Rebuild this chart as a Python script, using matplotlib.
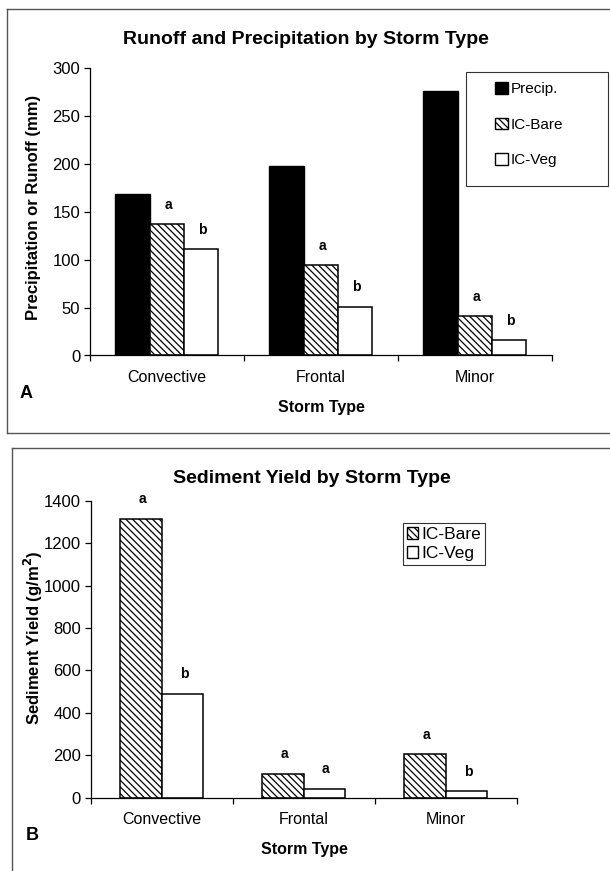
import numpy as np
import matplotlib
matplotlib.use('Agg')
import matplotlib.pyplot as plt
from matplotlib.lines import Line2D
from matplotlib.patches import Patch, Rectangle

plt.rcParams['font.family'] = ['Liberation Sans', 'DejaVu Sans']
plt.rcParams['hatch.linewidth'] = 0.9

# data
storms = ['Convective', 'Frontal', 'Minor']

precip = [168, 198, 276]
runoff_bare = [137, 94, 41]
runoff_veg = [111, 51, 16]
runoff_letters_bare = ['a', 'a', 'a']
runoff_letters_veg = ['b', 'b', 'b']

sed_bare = [1314, 113, 205]
sed_veg = [490, 42, 30]
sed_letters_bare = ['a', 'a', 'a']
sed_letters_veg = ['b', 'a', 'b']

W, H = 610, 871
fig = plt.figure(figsize=(W / 100, H / 100), dpi=100)

HATCH = '\\\\\\\\\\'


def px_ax(l, r, t, b):
    # convert pixel box to figure fraction
    return [l / W, 1 - b / H, (r - l) / W, (b - t) / H]


def style_axis(ax, ymax, ystep):
    x = np.arange(len(storms))
    ax.set_xlim(-0.5, len(storms) - 0.5)
    ax.set_ylim(0, ymax)
    ax.set_yticks(np.arange(0, ymax + 1, ystep))
    ax.set_xticks(x)
    ax.set_xticklabels(storms, fontsize=11.5)
    ax.set_xticks(np.arange(-0.5, len(storms)), minor=True)
    ax.tick_params(axis='x', which='major', length=0, pad=10.5)
    ax.tick_params(axis='x', which='minor', length=4, width=0.9, direction='out')
    ax.tick_params(axis='y', length=4, width=0.9, direction='out', labelsize=12, pad=3)
    for s in ['top', 'right']:
        ax.spines[s].set_visible(False)
    for s in ['left', 'bottom']:
        ax.spines[s].set_linewidth(0.9)


def label_bars(ax, bars, letters):
    for b, t in zip(bars, letters):
        ax.annotate(t, (b.get_x() + b.get_width() / 2, b.get_height()),
                    xytext=(1, 9), textcoords='offset points',
                    ha='center', va='bottom', fontsize=10, fontweight='bold')


# ---- panel A ----
axA = fig.add_axes(px_ax(90, 551.7, 67.7, 355.5))
x = np.arange(len(storms))
w = 0.223
bp = axA.bar(x - w, precip, w, color='black', edgecolor='black', linewidth=1)
bb = axA.bar(x, runoff_bare, w, color='white', edgecolor='black', hatch=HATCH, linewidth=1.1)
bv = axA.bar(x + w, runoff_veg, w, color='white', edgecolor='black', linewidth=1.1)
style_axis(axA, 300, 50)
label_bars(axA, bb, runoff_letters_bare)
label_bars(axA, bv, runoff_letters_veg)

fig.text(305.5 / W, 1 - 39 / H, 'Runoff and Precipitation by Storm Type',
         ha='center', va='center', fontsize=14, fontweight='bold')
fig.text(33.5 / W, 1 - 207 / H, 'Precipitation or Runoff (mm)', rotation=90,
         ha='center', va='center', fontsize=12, fontweight='bold')
fig.text(321 / W, 1 - 407.5 / H, 'Storm Type', ha='center', va='center',
         fontsize=11.5, fontweight='bold')
fig.text(26 / W, 1 - 393 / H, 'A', ha='center', va='center',
         fontsize=13, fontweight='bold')

handlesA = [Patch(facecolor='black', edgecolor='black'),
            Patch(facecolor='white', edgecolor='black', hatch=HATCH),
            Patch(facecolor='white', edgecolor='black')]
fig.legend(handlesA, ['Precip.', 'IC-Bare', 'IC-Veg'], loc='upper left',
           bbox_to_anchor=(492 / W, 1 - 79 / H), frameon=False, fontsize=11,
           handlelength=0.85, handleheight=0.8, handletextpad=0.2,
           labelspacing=1.4, borderpad=0.2, borderaxespad=0)
fig.add_artist(Rectangle((465.7 / W, 1 - 186 / H), (608 - 465.7) / W, (186 - 71.7) / H,
                         transform=fig.transFigure, fill=False,
                         edgecolor='#333333', linewidth=0.8))

# ---- panel B ----
axB = fig.add_axes(px_ax(90.7, 516.7, 500.7, 797.7))
w2 = 0.292
sb = axB.bar(x - w2 / 2, sed_bare, w2, color='white', edgecolor='black', hatch=HATCH, linewidth=1.1)
sv = axB.bar(x + w2 / 2, sed_veg, w2, color='white', edgecolor='black', linewidth=1.1)
style_axis(axB, 1400, 200)
label_bars(axB, sb, sed_letters_bare)
label_bars(axB, sv, sed_letters_veg)

fig.text(312 / W, 1 - 478 / H, 'Sediment Yield by Storm Type',
         ha='center', va='center', fontsize=14, fontweight='bold')
fig.text(33.5 / W, 1 - 638 / H, 'Sediment Yield (g/m$^\\mathbf{2}$)', rotation=90,
         ha='center', va='center', fontsize=12, fontweight='bold')
fig.text(304 / W, 1 - 849 / H, 'Storm Type', ha='center', va='center',
         fontsize=11.5, fontweight='bold')
fig.text(32 / W, 1 - 835 / H, 'B', ha='center', va='center',
         fontsize=13, fontweight='bold')

handlesB = [Patch(facecolor='white', edgecolor='black', hatch=HATCH),
            Patch(facecolor='white', edgecolor='black')]
legB = fig.legend(handlesB, ['IC-Bare', 'IC-Veg'], loc='upper left',
                  bbox_to_anchor=(403 / W, 1 - 523 / H), fontsize=12.5,
                  handlelength=0.6, handleheight=0.7, handletextpad=0.2,
                  labelspacing=0.2, borderpad=0.25, borderaxespad=0,
                  fancybox=False, framealpha=1, edgecolor='#333333')
legB.get_frame().set_linewidth(0.8)

# panel frames
frame = dict(color='#555555', linewidth=1, transform=fig.transFigure)
fig.add_artist(Line2D([7 / W, 7 / W], [1 - 9 / H, 1 - 433 / H], **frame))
fig.add_artist(Line2D([7 / W, 1], [1 - 9 / H, 1 - 9 / H], **frame))
fig.add_artist(Line2D([7 / W, 1], [1 - 433 / H, 1 - 433 / H], **frame))
fig.add_artist(Line2D([11.5 / W, 11.5 / W], [1 - 448 / H, 0], **frame))
fig.add_artist(Line2D([11.5 / W, 1], [1 - 448 / H, 1 - 448 / H], **frame))

fig.savefig('out.png', dpi=100)
